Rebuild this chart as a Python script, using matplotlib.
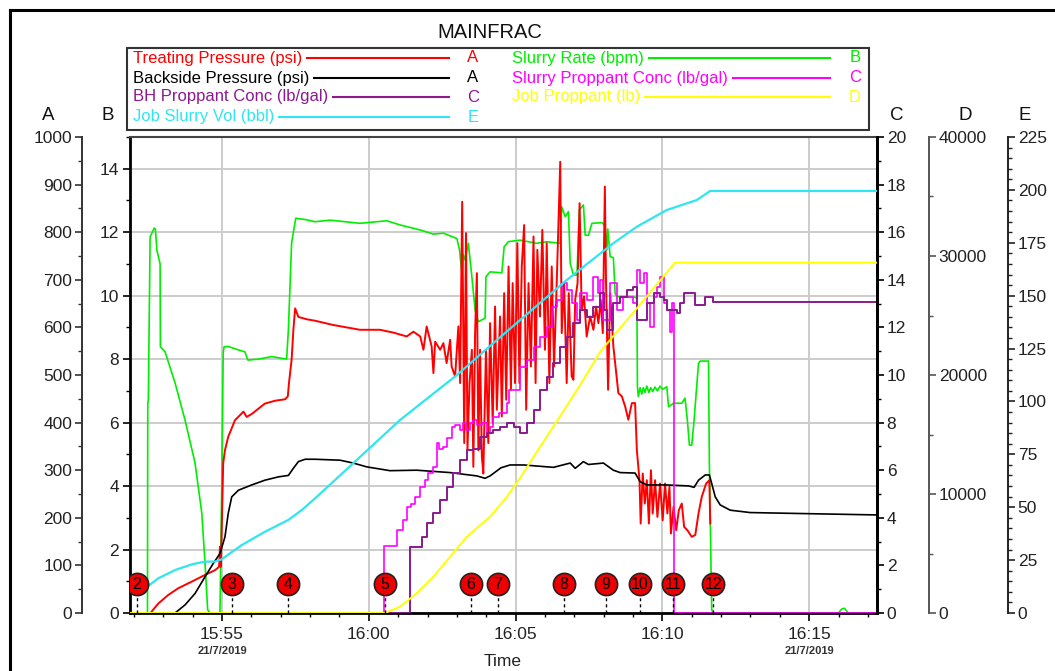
import matplotlib
matplotlib.use('Agg')
import matplotlib.pyplot as plt
import numpy as np
from matplotlib.lines import Line2D
from matplotlib.patches import Rectangle
from matplotlib.ticker import MultipleLocator

plt.rcParams['font.family'] = ['Liberation Sans', 'DejaVu Sans']

W, H = 1055, 671

# time is minutes after 15:50 on 21/7/2019
t_lo, t_hi = 1.865, 27.31
time_ticks = [5, 10, 15, 20, 25]
time_labels = ['15:55', '16:00', '16:05', '16:10', '16:15']

# Treating Pressure (psi)
treating = [
    (2.60, 3), (2.83, 20), (3.17, 38), (3.51, 52), (3.97, 66), (4.42, 80), (4.76, 90), (4.90, 97),
    (4.93, 139), (4.96, 97), (5.04, 315), (5.10, 342), (5.21, 370), (5.44, 405), (5.73, 423),
    (5.84, 412), (6.01, 418), (6.46, 440), (6.81, 446), (7.15, 449), (7.24, 455), (7.28, 483),
    (7.37, 532), (7.43, 595), (7.49, 640), (7.60, 622), (7.89, 617), (8.17, 614), (8.79, 605),
    (9.70, 595), (10.27, 595), (10.38, 595), (10.84, 589), (11.29, 581), (11.52, 591), (11.75, 581),
    (11.86, 553), (11.97, 602), (12.14, 560), (12.20, 504), (12.26, 570), (12.43, 553), (12.54, 567),
    (12.65, 525), (12.77, 574), (12.82, 518), (12.94, 497), (13.05, 602), (13.11, 483), (13.18, 864),
    (13.25, 357), (13.31, 798), (13.36, 342), (13.43, 483), (13.51, 553), (13.56, 307), (13.62, 588),
    (13.68, 714), (13.73, 342), (13.79, 553), (13.85, 329), (13.90, 293), (13.99, 553), (14.07, 357),
    (14.13, 609), (14.22, 399), (14.30, 644), (14.36, 427), (14.47, 623), (14.53, 413), (14.61, 672),
    (14.68, 448), (14.76, 728), (14.84, 469), (14.90, 693), (14.98, 483), (15.06, 777), (15.13, 483),
    (15.21, 728), (15.29, 815), (15.36, 427), (15.44, 693), (15.52, 518), (15.61, 791), (15.68, 483),
    (15.74, 763), (15.83, 623), (15.91, 805), (16.00, 553), (16.06, 777), (16.15, 483), (16.23, 728),
    (16.31, 518), (16.40, 693), (16.52, 948), (16.57, 588), (16.65, 693), (16.74, 483), (16.81, 672),
    (16.91, 497), (16.97, 490), (17.03, 658), (17.11, 693), (17.18, 861), (17.25, 637), (17.33, 665),
    (17.42, 581), (17.54, 623), (17.65, 595), (17.74, 644), (17.82, 609), (17.90, 658), (17.97, 588),
    (18.04, 896), (18.08, 693), (18.15, 469), (18.22, 672), (18.33, 560), (18.39, 525), (18.50, 462),
    (18.62, 455), (18.73, 434), (18.84, 406), (18.96, 441), (19.07, 441), (19.13, 342), (19.22, 279),
    (19.26, 188), (19.33, 293), (19.40, 230), (19.47, 279), (19.54, 188), (19.61, 300), (19.67, 209),
    (19.75, 279), (19.83, 202), (19.92, 272), (20.01, 195), (20.09, 272), (20.17, 209), (20.24, 265),
    (20.29, 167), (20.38, 223), (20.47, 174), (20.56, 216), (20.66, 230), (20.74, 181), (20.85, 174),
    (21.00, 160), (21.12, 164), (21.23, 209), (21.34, 244), (21.49, 272), (21.60, 279), (21.63, 188),
]

# Backside Pressure (psi)
backside = [
    (1.865, 0), (3.40, 0), (3.74, 17), (4.08, 41), (4.42, 76), (4.70, 104), (4.93, 125), (5.10, 160),
    (5.21, 209), (5.33, 244), (5.56, 258), (6.01, 269), (6.46, 279), (6.92, 286), (7.26, 289),
    (7.43, 304), (7.60, 318), (7.83, 323), (8.17, 323), (9.02, 321), (9.47, 315), (9.93, 307),
    (10.72, 299), (11.63, 300), (12.77, 295), (13.68, 288), (13.96, 283), (14.13, 288), (14.50, 305),
    (14.81, 311), (15.27, 311), (16.29, 306), (16.86, 315), (17.03, 304), (17.31, 318), (17.48, 312),
    (17.99, 315), (18.33, 300), (18.56, 295), (19.07, 294), (19.24, 276), (19.47, 269), (20.15, 269),
    (20.89, 267), (21.08, 264), (21.23, 279), (21.46, 290), (21.60, 290), (21.68, 272), (21.80, 244),
    (21.97, 227), (22.31, 216), (22.99, 211), (24.69, 209), (27.31, 206),
]

# Slurry Rate (bpm)
slurry_rate = [
    (1.865, 0), (2.46, 0), (2.47, 6.6), (2.49, 6.7), (2.55, 11.85), (2.69, 12.13), (2.73, 12.1),
    (2.78, 11.44), (2.89, 11.0), (2.90, 8.39), (3.06, 8.23), (3.40, 7.25), (3.74, 6.08), (4.08, 4.73),
    (4.31, 3.15), (4.42, 1.58), (4.51, 0.1), (4.59, 0), (4.93, 0), (4.99, 4.0), (5.04, 8.2),
    (5.07, 8.39), (5.21, 8.4), (5.56, 8.29), (5.78, 8.23), (5.88, 7.97), (6.24, 8.0), (6.69, 8.08),
    (7.20, 8.0), (7.26, 8.92), (7.37, 11.66), (7.51, 12.44), (7.83, 12.4), (8.17, 12.33),
    (8.68, 12.38), (9.70, 12.28), (10.61, 12.36), (11.06, 12.23), (11.75, 12.07), (12.20, 11.94),
    (12.54, 11.97), (13.00, 11.8), (13.09, 11.44), (13.17, 10.71), (13.22, 11.3), (13.28, 11.12),
    (13.39, 11.65), (13.51, 10.6), (13.62, 9.55), (13.73, 9.18), (13.96, 9.29), (13.99, 10.6),
    (14.13, 10.75), (14.53, 10.72), (14.61, 11.54), (14.75, 11.7), (15.15, 11.75), (15.72, 11.65),
    (16.06, 11.7), (16.52, 11.65), (16.57, 12.8), (16.69, 12.49), (16.80, 12.65), (16.86, 11.02),
    (16.97, 10.65), (17.09, 10.65), (17.17, 12.7), (17.31, 12.86), (17.37, 11.91), (17.48, 11.9),
    (17.60, 12.28), (17.94, 12.3), (18.05, 12.2), (18.11, 11.44), (18.14, 12.1), (18.22, 11.23),
    (18.33, 11.2), (18.39, 10.07), (18.45, 9.97), (19.01, 9.97), (19.13, 9.92), (19.15, 7.13),
    (19.18, 6.82), (19.24, 7.1), (19.30, 6.9), (19.35, 7.1), (19.41, 6.95), (19.47, 7.15),
    (19.54, 6.95), (19.60, 7.1), (19.67, 6.98), (19.75, 7.12), (19.83, 7.0), (19.92, 7.15),
    (20.00, 7.05), (20.10, 7.1), (20.15, 7.13), (20.21, 6.5), (20.38, 6.61), (20.66, 6.61),
    (20.77, 6.77), (20.85, 6.08), (20.92, 5.29), (21.00, 5.29), (21.08, 6.08), (21.15, 6.92),
    (21.23, 7.87), (21.29, 7.94), (21.57, 7.94), (21.60, 4.72), (21.68, 0.1), (21.74, 0),
    (26.00, 0), (26.10, 0.12), (26.20, 0.15), (26.33, 0), (27.31, 0),
]

# Slurry Proppant Conc (lb/gal)
slurry_conc = [
    (1.865, 0), (10.50, 2.82), (10.95, 3.49), (11.15, 3.9), (11.30, 4.47), (11.45, 4.6), (11.58, 4.89),
    (11.75, 5.31), (11.90, 5.6), (12.03, 5.87), (12.20, 6.15), (12.31, 7.13), (12.40, 6.9),
    (12.54, 6.99), (12.66, 7.34), (12.83, 7.83), (12.95, 7.9), (13.11, 7.69), (13.22, 7.97),
    (13.30, 7.7), (13.45, 7.97), (13.56, 8.11), (13.70, 7.9), (13.85, 8.0), (14.02, 7.55),
    (14.13, 7.83), (14.24, 8.25), (14.45, 8.4), (14.70, 8.81), (14.76, 9.37), (15.04, 9.37),
    (15.15, 10.35), (15.38, 10.63), (15.61, 11.19), (15.83, 11.61), (16.06, 12.03), (16.23, 12.87),
    (16.40, 13.15), (16.57, 13.85), (16.74, 13.57), (16.91, 13.01), (17.08, 12.31), (17.20, 13.43),
    (17.42, 13.15), (17.65, 14.13), (17.82, 13.43), (17.88, 13.99), (17.99, 12.31), (18.22, 13.85),
    (18.45, 12.73), (18.67, 13.29), (19.01, 13.01), (19.13, 14.41), (19.24, 13.85), (19.36, 14.27),
    (19.47, 13.01), (19.58, 12.03), (19.70, 13.29), (19.81, 13.71), (19.92, 14.13), (20.04, 13.01),
    (20.15, 12.73), (20.26, 11.82), (20.32, 13.01), (20.38, 12.59), (20.40, 0), (27.31, 0),
]

# BH Proppant Conc (lb/gal)
bh_conc = [
    (1.865, 0), (11.41, 2.79), (11.80, 3.21), (11.97, 3.77), (12.20, 4.19), (12.43, 4.75),
    (12.66, 5.31), (12.88, 5.87), (13.11, 6.43), (13.34, 6.85), (13.56, 6.9), (13.79, 7.41),
    (14.02, 7.55), (14.24, 7.69), (14.47, 7.8), (14.70, 7.97), (14.93, 7.83), (15.15, 7.55),
    (15.38, 7.97), (15.61, 8.53), (15.83, 9.37), (16.06, 9.93), (16.29, 10.49), (16.52, 11.19),
    (16.74, 11.61), (16.97, 12.17), (17.20, 12.73), (17.42, 12.45), (17.65, 12.87), (17.88, 13.43),
    (18.00, 12.73), (18.11, 11.89), (18.33, 13.01), (18.56, 13.29), (18.79, 13.57), (19.01, 13.71),
    (19.13, 12.31), (19.47, 13.01), (19.70, 13.43), (19.92, 13.29), (20.04, 13.15), (20.15, 12.73),
    (20.49, 12.62), (20.60, 13.01), (20.72, 13.43), (21.12, 12.94), (21.46, 13.29), (21.72, 13.05),
    (27.31, 13.05),
]

# Job Proppant (lb)
job_proppant = [
    (1.865, 0), (10.55, 0), (11.06, 532), (11.63, 1652), (12.20, 3053), (12.77, 4734), (13.34, 6414),
    (14.13, 8095), (14.70, 9750), (15.15, 11330), (15.83, 13950), (16.52, 16550), (17.20, 19160),
    (17.88, 21950), (18.56, 23950), (19.01, 25240), (19.41, 26440), (19.92, 27940), (20.43, 29440),
    (27.31, 29440),
]

# Job Slurry Vol (bbl)
job_vol = [
    (2.09, 9.5), (2.38, 11.7), (2.83, 16.4), (3.40, 20.3), (3.97, 23.0), (4.42, 24.3), (4.76, 24.3),
    (4.99, 25.4), (5.67, 32.1), (6.46, 38.4), (7.26, 44.0), (7.72, 48.7), (8.17, 54.2), (9.47, 70.8),
    (11.06, 91.2), (13.00, 112.5), (14.36, 129.0), (16.74, 157.4), (18.33, 174.8), (19.13, 182.6),
    (20.15, 190.5), (21.17, 195.2), (21.63, 199.5), (27.31, 199.5),
]

# stage markers
stage_t = [2.10, 5.34, 7.25, 10.55, 13.48, 14.40, 16.65, 18.08, 19.24, 20.37, 21.73]
stage_no = [2, 3, 4, 5, 6, 7, 8, 9, 10, 11, 12]

RED, BLACK, GREEN = '#ff0000', '#000000', '#00ee00'
MAGENTA, PURPLE = '#ff00ff', '#8a1a8e'
YELLOW, CYAN = '#ffff00', '#2ee6f0'
TICK_COL = '#222222'
TICK_FS = 12.5


def xy(pairs):
    a = np.array(pairs, dtype=float)
    return a[:, 0], a[:, 1]


fig = plt.figure(figsize=(W / 100, H / 100), dpi=100)
ax = fig.add_axes([130 / W, 58 / H, 747 / W, 476 / H])
axA = ax.twinx()
axC = ax.twinx()
axD = ax.twinx()
axE = ax.twinx()
axS = ax.twinx()

# host: slurry rate on B
ax.set_xlim(t_lo, t_hi)
ax.set_ylim(0, 15)
ax.yaxis.set_major_locator(MultipleLocator(2))
ax.yaxis.set_minor_locator(MultipleLocator(1))
ax.set_xticks(time_ticks)
ax.set_xticklabels(time_labels)
ax.xaxis.set_minor_locator(MultipleLocator(1))
ax.grid(True, which='major', color='#cccccc', lw=1.4)
ax.set_axisbelow(True)
for s in ['left', 'bottom', 'right']:
    ax.spines[s].set_linewidth(2)
ax.spines['top'].set_linewidth(1.5)
ax.spines['top'].set_color('#444444')
ax.tick_params(axis='both', which='major', direction='out', length=5, width=1.2,
               labelsize=TICK_FS, labelcolor=TICK_COL, pad=3)
ax.tick_params(axis='both', which='minor', direction='out', length=3, width=1)
ax.tick_params(axis='x', which='major', pad=4, length=6)
t, v = xy(slurry_rate)
ax.plot(t, v, color=GREEN, lw=1.2)


def side_axis(a, side, pos, lo, hi, major, minor, color='black'):
    a.set_ylim(lo, hi)
    for s in ['left', 'right', 'top', 'bottom']:
        a.spines[s].set_visible(s == side)
    a.spines[side].set_position(('axes', pos))
    a.spines[side].set_color(color)
    a.spines[side].set_linewidth(1.4)
    if side == 'left':
        a.yaxis.tick_left()
    else:
        a.yaxis.tick_right()
    a.yaxis.set_major_locator(MultipleLocator(major))
    a.yaxis.set_minor_locator(MultipleLocator(minor))
    a.tick_params(axis='y', which='major', direction='out', length=5, width=1.2,
                  labelsize=TICK_FS, labelcolor=TICK_COL, pad=2, color=color)
    a.tick_params(axis='y', which='minor', direction='out', length=3, width=1, color=color)


side_axis(axA, 'left', -48 / 747, 0, 1000, 100, 50, '#333333')
side_axis(axC, 'right', 1.0, 0, 20, 2, 1)
axC.spines['right'].set_linewidth(2)
side_axis(axD, 'right', 799 / 747, 0, 40000, 10000, 5000, '#555555')
side_axis(axE, 'right', 878 / 747, 0, 225, 25, 5, '#222222')

t, v = xy(treating)
axA.plot(t, v, color=RED, lw=1.4)
t, v = xy(backside)
axA.plot(t, v, color=BLACK, lw=1.2)
t, v = xy(slurry_conc)
axC.plot(t, v, color=MAGENTA, lw=1.2, drawstyle='steps-post')
t, v = xy(bh_conc)
axC.plot(t, v, color=PURPLE, lw=1.4, drawstyle='steps-post')
t, v = xy(job_proppant)
axD.plot(t, v, color=YELLOW, lw=1.4)
t, v = xy(job_vol)
axE.plot(t, v, color=CYAN, lw=1.6)

# stage markers sit on top of everything, in slurry-rate units
axS.set_ylim(0, 15)
axS.axis('off')
axS.vlines(stage_t, 0, 0.56, colors='black', linestyles=(0, (2.2, 2.2)), lw=1)
axS.plot(stage_t, [0.91] * len(stage_t), 'o', ms=16, mfc='#ee0000', mec='#222222', mew=1.2)
for st, n in zip(stage_t, stage_no):
    axS.text(st, 0.91, str(n), ha='center', va='center', fontsize=11.5, color='black')

# date under the first and last labelled time
for d in [5, 25]:
    ax.annotate('21/7/2019', xy=(d, 0), xycoords=('data', 'axes fraction'),
                xytext=(0, -38), textcoords='offset pixels', ha='center', va='center',
                fontsize=8, color='#333333', fontweight='bold')


def fx(x):
    return x / W


def fy(y):
    return 1 - y / H


fig.text(fx(503), fy(661), 'Time', ha='center', va='center', fontsize=12.5, color=TICK_COL)
fig.text(fx(490), fy(32), 'MAINFRAC', ha='center', va='center', fontsize=14.5, color='#111111')
for letter, x in [('A', 48), ('B', 108), ('C', 897), ('D', 965), ('E', 1025)]:
    fig.text(fx(x), fy(115), letter, ha='center', va='center', fontsize=13.5, color='#111111')

# outer frame
fig.add_artist(Line2D([fx(10), fx(10)], [fy(10), fy(H)], color='black', lw=2.2,
                      transform=fig.transFigure))
fig.add_artist(Line2D([fx(10), fx(W)], [fy(10), fy(10)], color='black', lw=2.2,
                      transform=fig.transFigure))

# legend box
fig.add_artist(Rectangle((fx(127), fy(130)), 742 / W, 82 / H, fill=False, ec='#333333', lw=1.5,
                         transform=fig.transFigure))
row_y = [58, 78, 97, 117]
left_rows = [('Treating Pressure (psi)', RED, 'A'),
             ('Backside Pressure (psi)', BLACK, 'A'),
             ('BH Proppant Conc (lb/gal)', PURPLE, 'C'),
             ('Job Slurry Vol (bbl)', CYAN, 'E')]
right_rows = [('Slurry Rate (bpm)', GREEN, 'B'),
              ('Slurry Proppant Conc (lb/gal)', MAGENTA, 'C'),
              ('Job Proppant (lb)', YELLOW, 'D')]

entries = []
for rows, x0, x_end, x_letter in [(left_rows, 133, 449, 473), (right_rows, 512, 830, 855)]:
    for i, (name, col, letter) in enumerate(rows):
        y = row_y[i]
        txt = fig.text(fx(x0), fy(y), name, color=col, fontsize=12, ha='left', va='center')
        fig.text(fx(x_letter), fy(y), letter, color=col, fontsize=12, ha='center', va='center')
        entries.append((txt, col, x_end, y))

renderer = fig.canvas.get_renderer()
for txt, col, x_end, y in entries:
    bb = txt.get_window_extent(renderer)
    fig.add_artist(Line2D([fx(bb.x1 + 5), fx(x_end)], [fy(y), fy(y)], color=col, lw=1.5,
                          transform=fig.transFigure))

fig.savefig('out.png', dpi=100)
